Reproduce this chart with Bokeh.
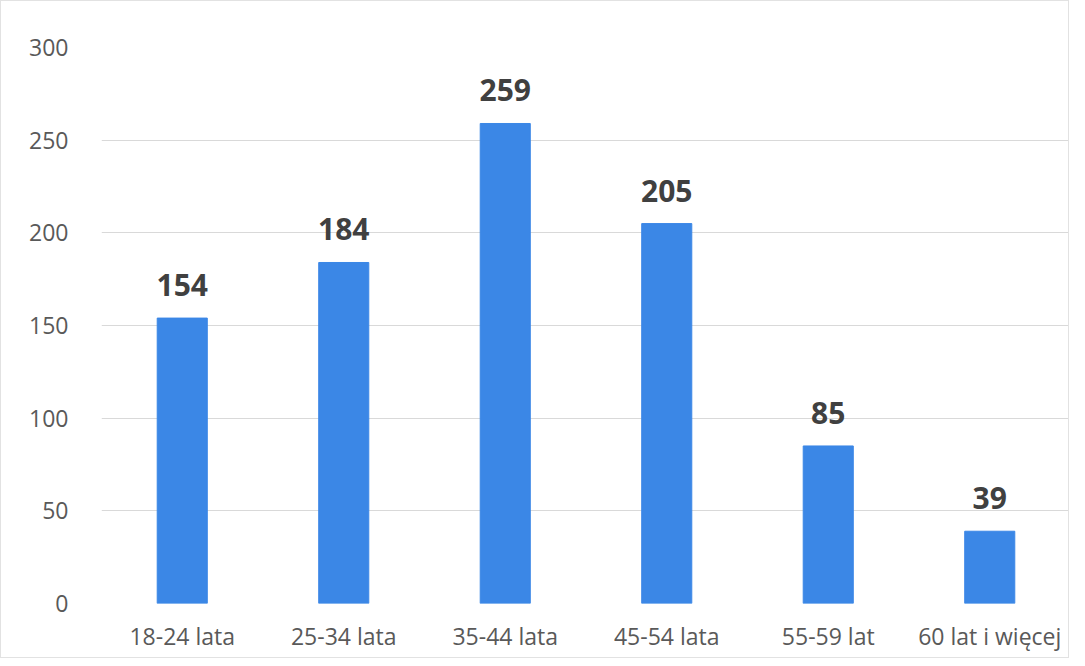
from bokeh.plotting import figure
from bokeh.models import ColumnDataSource, Range1d, FixedTicker
from bokeh.core.properties import value
from bokeh.embed import file_html
from bokeh.resources import INLINE

categories = ["18-24 lata", "25-34 lata", "35-44 lata", "45-54 lata", "55-59 lat", "60 lat i więcej"]
values = [154, 184, 259, 205, 85, 39]
y_ticks = [0, 50, 100, 150, 200, 250, 300]

src = ColumnDataSource(dict(cat=categories, val=values, lbl=[str(v) for v in values]))

p = figure(x_range=categories, y_range=Range1d(0, 300), width=1069, height=658,
           output_backend="svg", toolbar_location=None,
           min_border_left=100, min_border_right=0, min_border_top=46, min_border_bottom=56)
p.styles = {"border": "1px solid #e2e2e2"}

p.vbar(x="cat", top="val", width=0.31, source=src, color="#3b87e6")
p.text(x="cat", y="val", text="lbl", source=src, text_align="center", text_baseline="bottom",
       y_offset=-22, text_font=value("Open Sans"), text_font_size="30px", text_font_style="bold",
       text_color="#404040")

p.outline_line_color = None
p.xgrid.grid_line_color = None
p.ygrid.grid_line_color = "#d9d9d9"
p.ygrid.ticker = FixedTicker(ticks=y_ticks)
p.yaxis.ticker = FixedTicker(ticks=y_ticks)

for ax in (p.xaxis, p.yaxis):
    ax.axis_line_color = None
    ax.major_tick_line_color = None
    ax.minor_tick_line_color = None
    ax.major_label_text_font = "Open Sans"
    ax.major_label_text_font_size = "23px"
    ax.major_label_text_color = "#595959"
    ax.major_label_text_font_style = "normal"

p.yaxis.major_label_standoff = 27
p.xaxis.major_label_standoff = 10
p.x_range.range_padding = 0.0

open("out.html", "w").write(file_html(p, INLINE))
